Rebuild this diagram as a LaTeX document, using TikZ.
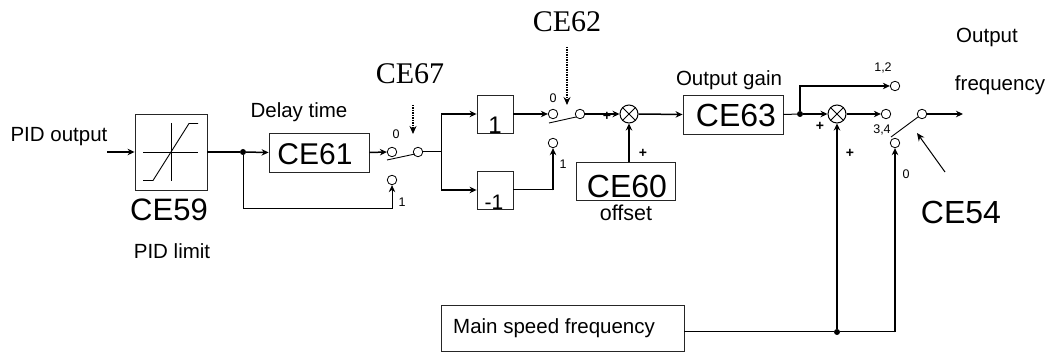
\documentclass[tikz,border=0pt]{standalone}
\usepackage{fontspec}
\setmainfont{Liberation Sans}
\newfontfamily\serifcap{Liberation Serif}
\usetikzlibrary{arrows.meta}
\tikzset{
  box/.style={draw=black!85,line width=0.9pt,inner sep=0pt,fill=white},
  term/.style={draw=black,line width=0.8pt,circle,minimum size=9.5pt,inner sep=0pt,fill=white},
  sumnode/.style={draw=black,line width=1pt,circle,minimum size=18pt,inner sep=0pt,fill=white},
  jdot/.style={fill=black,circle,minimum size=6pt,inner sep=0pt},
  wire/.style={line width=1.5pt,-{Stealth[length=7pt,width=6.5pt]}},
  thin wire/.style={line width=1pt},
  lever/.style={line width=0.9pt},
  pointer/.style={line width=1.5pt,densely dotted,-{Stealth[length=8pt,width=7pt]}},
  cetext/.style={font=\fontsize{30}{34}\selectfont,inner sep=0pt},
  cebig/.style={font=\fontsize{32}{36}\selectfont,inner sep=0pt},
  sertext/.style={font=\fontsize{30}{34}\selectfont\serifcap,inner sep=0pt},
  lab/.style={font=\fontsize{20.5}{24}\selectfont,inner sep=0pt},
  tiny lab/.style={font=\fontsize{12.5}{14}\selectfont,inner sep=0pt},
  plus/.style={font=\bfseries\fontsize{14}{16}\selectfont,inner sep=0pt}
}
\begin{document}
\begin{tikzpicture}[x=1pt,y=-1pt]
\useasboundingbox (0,0) rectangle (1050,352);
% boxes
\node[box,minimum width=72pt,minimum height=76pt] (lim) at (171,152) {};
\node[box,minimum width=100pt,minimum height=39pt] (d61) at (319,152.5) {};
\node[box,minimum width=36pt,minimum height=38pt] (p1) at (495,114) {};
\node[box,minimum width=36pt,minimum height=38pt] (m1) at (495,190) {};
\node[box,minimum width=99pt,minimum height=38pt] (c60) at (625.5,181) {};
\node[box,minimum width=100pt,minimum height=39pt] (c63) at (733,114.5) {};
\node[box,minimum width=243pt,minimum height=46pt] (main) at (562.5,328) {};
% limiter glyph
\draw[line width=0.9pt] (143,152) -- (198,152) (171,123) -- (171,181);
\draw[line width=0.9pt] (143,180.5) -- (153,180.5) -- (189,123.5) -- (198,123.5);
% box texts
\node[cetext] (t61) at (315,154) {CE61};
\node[cebig] (t63) at (736,115) {CE63};
\node[cebig] (t60) at (627,186) {CE60};
\node[font=\fontsize{31}{35}\selectfont,inner sep=0pt] (t59) at (169,210) {CE59};
\node[cebig] (t54) at (961,212) {CE54};
\node[font=\fontsize{24}{28}\selectfont,inner sep=0pt] (t1) at (495,125) {1};
\node[font=\fontsize{21}{25}\selectfont,inner sep=0pt] (tm1) at (494,202) {-1};
\node[sertext] (t67) at (410,74) {CE67};
\node[sertext] (t62) at (567,22) {CE62};
\node[lab] (pidout) at (59,137) {PID output};
\node[lab] (delay) at (299,112) {Delay time};
\node[lab] (pidlim) at (172,251) {PID limit};
\node[lab] (gain) at (729,80) {Output gain};
\node[lab] (outp) at (987,37) {Output};
\node[lab] (freq) at (1000,85) {frequency};
\node[font=\fontsize{21.5}{24}\selectfont,inner sep=0pt] (off) at (626,213) {offset};
\node[lab,anchor=west] (mtxt) at (453,328) {Main speed frequency};
% summers
\node[sumnode] (s1) at (629,114) {};
\draw[line width=1pt] (s1.45) -- (s1.225) (s1.135) -- (s1.315);
\node[sumnode] (s2) at (837,114) {};
\draw[line width=1pt] (s2.45) -- (s2.225) (s2.135) -- (s2.315);
% terminals
\node[term] (a0) at (392,152) {};
\node[term] (a1) at (392,180) {};
\node[term] (aout) at (418,152) {};
\node[term] (b0) at (553,114) {};
\node[term] (b1) at (553,143) {};
\node[term] (bout) at (580,114) {};
\node[term] (c12) at (895,86) {};
\node[term] (c34) at (886,114) {};
\node[term] (c0) at (895,143) {};
\node[term] (cout) at (922,114) {};
% dots
\node[jdot] (j1) at (243,152) {};
\node[jdot] (j2) at (800,114) {};
\node[jdot] (j3) at (837,332) {};
\coordinate (split) at (441,152);
\coordinate (in) at (107,152);
\coordinate (out) at (963,114);
% tiny labels
\node[tiny lab] (l0a) at (396,134) {0};
\node[tiny lab] (l1a) at (402,202) {1};
\node[tiny lab] (l0b) at (553,98) {0};
\node[tiny lab] (l1b) at (563,164) {1};
\node[tiny lab] (l12) at (883,68) {1,2};
\node[tiny lab] (l34) at (882,130) {3,4};
\node[tiny lab] (l0c) at (906,174) {0};
\node[plus] (pa1) at (607,116) {+};
\node[plus] (pa2n) at (643,153) {+};
\node[plus] (pa3) at (820,126) {+};
\node[plus] (pa4) at (850,153) {+};
% connectors
\draw[wire] (in) -- (lim.west);
\draw[line width=1.5pt] (lim.east) -- (j1);
\draw[wire] (j1) -- (d61.west);
\draw[wire] (d61.east) -- (a0.west);
\draw[thin wire,-{Stealth[length=7pt,width=6.5pt]}] (j1) |- (392,209) -- (a1.south);
\draw[thin wire] (aout) -- (split);
\draw[thin wire] (441,114) -- (441,190);
\draw[wire] (441,114) -- (p1.west);
\draw[wire] (441,190) -- (m1.west);
\draw[wire] (p1.east) -- (b0.west);
\draw[thin wire] (m1.east) -- (553,190);
\draw[wire] (553,190.5) -- (b1.south);
\draw[wire] (bout.east) -- (s1.west);
\draw[wire] (c60.north -| s1) -- (s1.south);
\draw[wire] (s1.east) -- (c63.west);
\draw[thin wire] (c63.east) -- (j2);
\draw[wire] (j2) -- (s2.west);
\draw[wire] (j2) |- (c12.west);
\draw[wire] (s2.east) -- (c34.west);
\draw[wire] (cout.east) -- (out);
\draw[thin wire] (main.east |- j3) -- (j3);
\draw[wire] (j3) -- (s2.south);
\draw[thin wire] (j3) -- (895,332);
\draw[wire] (895,332.5) -- (c0.south);
% levers
\draw[lever] (387,160) -- (415,154);
\draw[lever] (549,123) -- (576,117);
\draw[lever] (891,137) -- (918,117);
% pointers
\coordinate (pa) at (413,105);
\coordinate (pa2) at (413,134);
\coordinate (pb) at (567,47);
\coordinate (pb2) at (567,105);
\draw[pointer] (pa) -- (pa2);
\draw[pointer] (pb) -- (pb2);
\coordinate (pc) at (945,172);
\coordinate (pc2) at (917,133);
\draw[line width=1pt,-{Stealth[length=8pt,width=7pt]}] (pc) -- (pc2);
\end{tikzpicture}
\end{document}
